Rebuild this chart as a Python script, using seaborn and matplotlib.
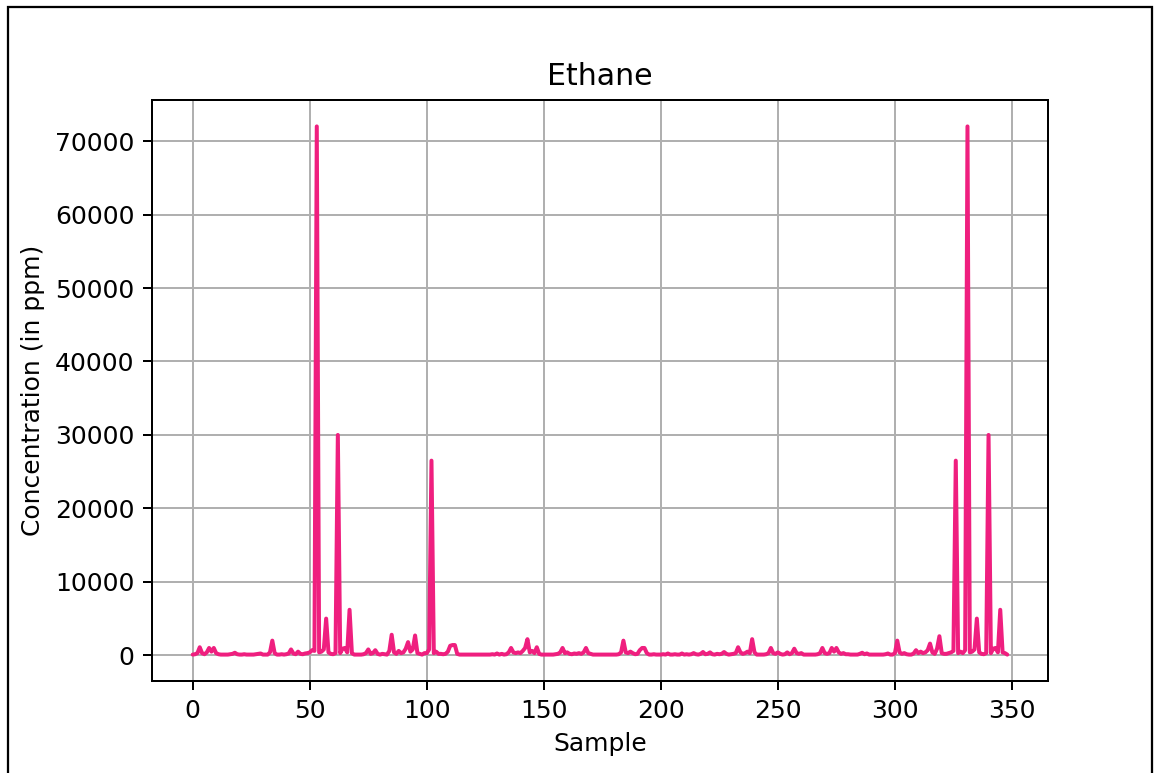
import numpy as np
import pandas as pd
import seaborn as sns
import matplotlib
matplotlib.use("Agg")
import matplotlib.pyplot as plt
from matplotlib.patches import Rectangle

# Ethane concentration per sample (ppm)
ethane = [
    100, 150, 300, 1100, 300, 150, 400, 1000, 500, 1000,
    300, 150, 100, 100, 100, 100, 150, 200, 350, 150,
    100, 100, 150, 100, 100, 100, 100, 150, 200, 250,
    100, 100, 100, 400, 2000, 300, 100, 100, 150, 100,
    150, 250, 800, 250, 150, 500, 200, 150, 250, 300,
    400, 700, 600, 72000, 400, 500, 800, 5000, 400, 200,
    150, 300, 30000, 300, 900, 1000, 400, 6200, 300, 100,
    100, 100, 100, 150, 300, 800, 200, 300, 700, 200,
    100, 200, 150, 100, 600, 2800, 400, 200, 600, 300,
    400, 900, 1800, 500, 800, 2700, 300, 200, 100, 300,
    300, 800, 26500, 300, 500, 200, 200, 150, 200, 500,
    1300, 1400, 1400, 200, 100, 100, 100, 100, 100, 100,
    100, 100, 100, 100, 100, 100, 100, 100, 150, 100,
    250, 100, 200, 100, 150, 400, 1000, 400, 300, 400,
    300, 600, 1000, 2200, 400, 600, 300, 1100, 200, 100,
    100, 100, 100, 100, 100, 150, 200, 400, 1000, 300,
    400, 200, 150, 250, 200, 300, 200, 400, 1000, 300,
    200, 100, 100, 100, 100, 100, 100, 100, 100, 100,
    100, 100, 150, 400, 2000, 400, 300, 500, 300, 150,
    200, 700, 1000, 1000, 300, 100, 100, 150, 100, 100,
    100, 150, 100, 250, 100, 100, 150, 100, 100, 250,
    100, 150, 100, 150, 300, 150, 100, 200, 450, 150,
    200, 400, 150, 100, 200, 150, 200, 450, 200, 100,
    150, 200, 300, 1100, 400, 200, 300, 500, 300, 2200,
    400, 100, 100, 100, 100, 150, 300, 1000, 300, 200,
    400, 200, 100, 150, 400, 150, 300, 900, 300, 200,
    300, 100, 100, 100, 100, 100, 100, 150, 300, 1000,
    300, 200, 300, 1000, 500, 1000, 400, 200, 300, 150,
    150, 100, 100, 100, 100, 200, 350, 150, 250, 100,
    100, 100, 100, 100, 100, 100, 150, 250, 100, 100,
    300, 2000, 400, 200, 300, 150, 100, 100, 250, 700,
    300, 500, 300, 400, 700, 1600, 400, 200, 900, 2600,
    300, 200, 200, 300, 400, 600, 26500, 300, 500, 300,
    700, 72000, 400, 500, 800, 5000, 400, 200, 150, 300,
    30000, 300, 900, 1000, 400, 6200, 400, 300, 100,
]
samples = list(range(len(ethane)))

title = "Ethane"
xlabel = "Sample"
ylabel = "Concentration (in ppm)"

df = pd.DataFrame({"Sample": samples, "Concentration": ethane})

sns.set_theme(style="ticks")
plt.rcParams["font.family"] = ["DejaVu Sans"]
plt.rcParams["axes.edgecolor"] = "black"
plt.rcParams["xtick.color"] = "black"
plt.rcParams["ytick.color"] = "black"
plt.rcParams["text.color"] = "black"
plt.rcParams["axes.labelcolor"] = "black"

fig = plt.figure(figsize=(1155 / 180, 773 / 180), dpi=180)
ax = fig.add_axes([152 / 1155, 1 - 681 / 773, (1048 - 152) / 1155, (681 - 100) / 773])

sns.lineplot(data=df, x="Sample", y="Concentration", ax=ax, color="#EF1F7F", linewidth=1.6)

ax.grid(True, color="#b0b0b0", linewidth=0.8)
ax.set_axisbelow(True)
for s in ax.spines.values():
    s.set_visible(True)
    s.set_linewidth(0.8)
    s.set_color("black")
ax.tick_params(axis="both", labelsize=10, length=3.5, width=0.8, direction="out",
               colors="black", labelcolor="black")
ax.set_xticks([0, 50, 100, 150, 200, 250, 300, 350])
ax.set_yticks([0, 10000, 20000, 30000, 40000, 50000, 60000, 70000])
ax.set_title(title, fontsize=12, color="black")
ax.set_xlabel(xlabel, fontsize=10, color="black")
ax.set_ylabel(ylabel, fontsize=10, color="black")

fig.add_artist(Rectangle((8 / 1155, -0.02), (1152 - 8) / 1155, 1.02 - 7 / 773,
                         transform=fig.transFigure, fill=False, edgecolor="black",
                         linewidth=0.9, clip_on=False))

fig.savefig("out.png", dpi=180, facecolor="white")
